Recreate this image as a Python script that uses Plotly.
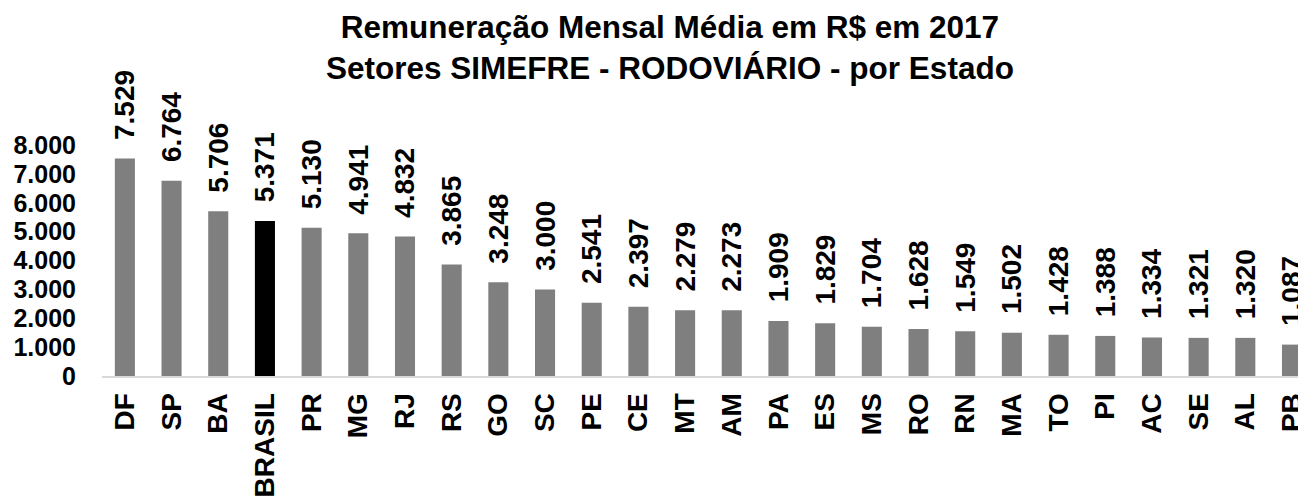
import plotly.graph_objects as go

estados = ["DF", "SP", "BA", "BRASIL", "PR", "MG", "RJ", "RS", "GO", "SC", "PE", "CE", "MT",
           "AM", "PA", "ES", "MS", "RO", "RN", "MA", "TO", "PI", "AC", "SE", "AL", "PB"]
remuneracao = [7529, 6764, 5706, 5371, 5130, 4941, 4832, 3865, 3248, 3000, 2541, 2397, 2279,
               2273, 1909, 1829, 1704, 1628, 1549, 1502, 1428, 1388, 1334, 1321, 1320, 1087]
y_ticks = [0, 1000, 2000, 3000, 4000, 5000, 6000, 7000, 8000]

cores = ["#000000" if e == "BRASIL" else "#7f7f7f" for e in estados]

FONT = "Liberation Sans, Arial, sans-serif"

fig = go.Figure(go.Bar(
    x=estados, y=remuneracao,
    marker=dict(color=cores, line=dict(width=0)),
    width=0.43,
    texttemplate="\u00a0\u00a0%{y:,}",
    textposition="outside",
    textangle=-90,
    constraintext="none",
    cliponaxis=False,
    textfont=dict(family=FONT, size=28, color="#000000", weight="bold"),
))

fig.update_layout(
    width=1298, height=489,
    separators=",.",
    paper_bgcolor="white", plot_bgcolor="white",
    margin=dict(l=94, r=0, t=137, b=121),
    showlegend=False,
    title=dict(
        text="Remuneração Mensal Média em R$ em 2017<br>Setores SIMEFRE - RODOVIÁRIO - por Estado",
        x=0.510, xref="container", xanchor="center",
        y=0.9387, yref="container", yanchor="top",
        font=dict(family=FONT, size=31.5, color="#000000", weight="bold"),
        automargin=False,
    ),
    xaxis=dict(
        range=[-0.49, 25.3],
        tickangle=-90,
        tickfont=dict(family=FONT, size=28, color="#000000", weight="bold"),
        showline=True, linecolor="#d9d9d9", linewidth=2,
        showgrid=False, ticks="",
        ticklabelstandoff=4,
        automargin=False,
    ),
    yaxis=dict(
        range=[0, 8000],
        tickvals=y_ticks,
        tickformat=",",
        tickfont=dict(family=FONT, size=25, color="#000000", weight="bold"),
        showgrid=False, zeroline=False, showline=False, ticks="",
        ticklabelstandoff=25,
        automargin=False,
    ),
)

fig.write_html("out.html")
